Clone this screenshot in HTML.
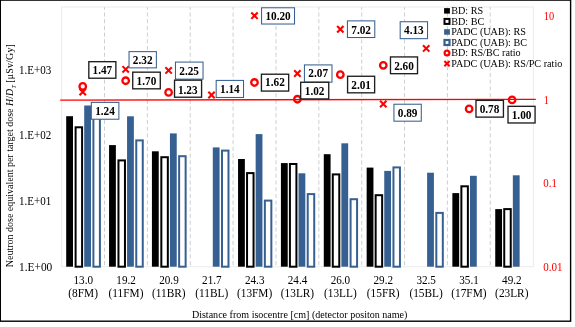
<!DOCTYPE html>
<html><head><meta charset="utf-8"><title>chart</title>
<style>html,body{margin:0;padding:0;background:#fff;}svg{display:block;}text{font-family:"Liberation Serif",serif;}</style></head><body>
<svg width="575" height="327" viewBox="0 0 575 327">
<rect x="0" y="0" width="575" height="327" fill="#fff"/>
<rect x="0.3" y="0.1" width="570.3" height="321.1" fill="none" stroke="#000" stroke-width="1.4"/>
<rect x="61.6" y="7.0" width="471.80" height="259.70" fill="none" stroke="#ebebeb" stroke-width="1"/>
<line x1="104.51" y1="7.2" x2="104.51" y2="266.3" stroke="#c9c9c9" stroke-width="0.9" stroke-dasharray="4.1 2.62" stroke-dashoffset="1.5"/>
<line x1="147.38" y1="7.2" x2="147.38" y2="266.3" stroke="#c9c9c9" stroke-width="0.9" stroke-dasharray="4.1 2.62" stroke-dashoffset="1.5"/>
<line x1="190.24" y1="7.2" x2="190.24" y2="266.3" stroke="#c9c9c9" stroke-width="0.9" stroke-dasharray="4.1 2.62" stroke-dashoffset="1.5"/>
<line x1="233.10" y1="7.2" x2="233.10" y2="266.3" stroke="#c9c9c9" stroke-width="0.9" stroke-dasharray="4.1 2.62" stroke-dashoffset="1.5"/>
<line x1="275.97" y1="7.2" x2="275.97" y2="266.3" stroke="#c9c9c9" stroke-width="0.9" stroke-dasharray="4.1 2.62" stroke-dashoffset="1.5"/>
<line x1="318.83" y1="7.2" x2="318.83" y2="266.3" stroke="#c9c9c9" stroke-width="0.9" stroke-dasharray="4.1 2.62" stroke-dashoffset="1.5"/>
<line x1="361.70" y1="7.2" x2="361.70" y2="266.3" stroke="#c9c9c9" stroke-width="0.9" stroke-dasharray="4.1 2.62" stroke-dashoffset="1.5"/>
<line x1="404.56" y1="7.2" x2="404.56" y2="266.3" stroke="#c9c9c9" stroke-width="0.9" stroke-dasharray="4.1 2.62" stroke-dashoffset="1.5"/>
<line x1="447.42" y1="7.2" x2="447.42" y2="266.3" stroke="#c9c9c9" stroke-width="0.9" stroke-dasharray="4.1 2.62" stroke-dashoffset="1.5"/>
<line x1="490.29" y1="7.2" x2="490.29" y2="266.3" stroke="#c9c9c9" stroke-width="0.9" stroke-dasharray="4.1 2.62" stroke-dashoffset="1.5"/>
<rect x="66.20" y="116.20" width="6.8" height="150.50" fill="#000"/>
<rect x="75.60" y="127.30" width="6.50" height="139.40" fill="#fff" stroke="#000" stroke-width="2.0"/>
<rect x="84.20" y="105.50" width="6.8" height="161.20" fill="#376092"/>
<rect x="93.40" y="112.00" width="6.50" height="154.70" fill="#fff" stroke="#376092" stroke-width="2.0"/>
<rect x="109.06" y="145.10" width="6.8" height="121.60" fill="#000"/>
<rect x="118.46" y="160.40" width="6.50" height="106.30" fill="#fff" stroke="#000" stroke-width="2.0"/>
<rect x="127.06" y="116.30" width="6.8" height="150.40" fill="#376092"/>
<rect x="136.26" y="140.40" width="6.50" height="126.30" fill="#fff" stroke="#376092" stroke-width="2.0"/>
<rect x="151.93" y="151.30" width="6.8" height="115.40" fill="#000"/>
<rect x="161.33" y="157.20" width="6.50" height="109.50" fill="#fff" stroke="#000" stroke-width="2.0"/>
<rect x="169.93" y="133.40" width="6.8" height="133.30" fill="#376092"/>
<rect x="179.13" y="156.20" width="6.50" height="110.50" fill="#fff" stroke="#376092" stroke-width="2.0"/>
<rect x="212.79" y="147.40" width="6.8" height="119.30" fill="#376092"/>
<rect x="221.99" y="150.60" width="6.50" height="116.10" fill="#fff" stroke="#376092" stroke-width="2.0"/>
<rect x="238.05" y="159.00" width="6.8" height="107.70" fill="#000"/>
<rect x="247.05" y="173.10" width="6.50" height="93.60" fill="#fff" stroke="#000" stroke-width="2.0"/>
<rect x="255.65" y="134.10" width="6.8" height="132.60" fill="#376092"/>
<rect x="264.85" y="200.60" width="6.50" height="66.10" fill="#fff" stroke="#376092" stroke-width="2.0"/>
<rect x="280.92" y="163.10" width="6.8" height="103.60" fill="#000"/>
<rect x="289.92" y="164.00" width="6.50" height="102.70" fill="#fff" stroke="#000" stroke-width="2.0"/>
<rect x="298.52" y="173.30" width="6.8" height="93.40" fill="#376092"/>
<rect x="307.72" y="194.10" width="6.50" height="72.60" fill="#fff" stroke="#376092" stroke-width="2.0"/>
<rect x="323.78" y="154.20" width="6.8" height="112.50" fill="#000"/>
<rect x="332.78" y="174.40" width="6.50" height="92.30" fill="#fff" stroke="#000" stroke-width="2.0"/>
<rect x="341.38" y="143.30" width="6.8" height="123.40" fill="#376092"/>
<rect x="350.58" y="199.20" width="6.50" height="67.50" fill="#fff" stroke="#376092" stroke-width="2.0"/>
<rect x="366.65" y="167.60" width="6.8" height="99.10" fill="#000"/>
<rect x="375.65" y="195.20" width="6.50" height="71.50" fill="#fff" stroke="#000" stroke-width="2.0"/>
<rect x="384.25" y="170.90" width="6.8" height="95.80" fill="#376092"/>
<rect x="393.45" y="167.40" width="6.50" height="99.30" fill="#fff" stroke="#376092" stroke-width="2.0"/>
<rect x="427.11" y="172.70" width="6.8" height="94.00" fill="#376092"/>
<rect x="436.31" y="212.90" width="6.50" height="53.80" fill="#fff" stroke="#376092" stroke-width="2.0"/>
<rect x="452.37" y="193.10" width="6.8" height="73.60" fill="#000"/>
<rect x="461.37" y="186.30" width="6.50" height="80.40" fill="#fff" stroke="#000" stroke-width="2.0"/>
<rect x="469.97" y="175.80" width="6.8" height="90.90" fill="#376092"/>
<rect x="495.24" y="209.10" width="6.8" height="57.60" fill="#000"/>
<rect x="504.24" y="209.10" width="6.50" height="57.60" fill="#fff" stroke="#000" stroke-width="2.0"/>
<rect x="512.84" y="175.30" width="6.8" height="91.40" fill="#376092"/>
<line x1="60.2" y1="100.1" x2="535.8" y2="99.35" stroke="#ff0000" stroke-width="1.45"/>
<circle cx="82.73" cy="86.40" r="3.25" fill="none" stroke="#ff0000" stroke-width="2.3"/>
<path d="M79.53 88.81L85.93 95.21M79.53 95.21L85.93 88.81" stroke="#ff0000" stroke-width="2.1" fill="none"/>
<circle cx="125.67" cy="80.73" r="3.25" fill="none" stroke="#ff0000" stroke-width="2.3"/>
<path d="M122.47 66.12L128.87 72.52M122.47 72.52L128.87 66.12" stroke="#ff0000" stroke-width="2.1" fill="none"/>
<circle cx="168.60" cy="92.45" r="3.25" fill="none" stroke="#ff0000" stroke-width="2.3"/>
<path d="M165.40 67.23L171.80 73.63M165.40 73.63L171.80 67.23" stroke="#ff0000" stroke-width="2.1" fill="none"/>
<path d="M208.33 91.85L214.73 98.25M208.33 98.25L214.73 91.85" stroke="#ff0000" stroke-width="2.1" fill="none"/>
<circle cx="254.47" cy="82.48" r="3.25" fill="none" stroke="#ff0000" stroke-width="2.3"/>
<path d="M251.27 12.48L257.67 18.88M251.27 18.88L257.67 12.48" stroke="#ff0000" stroke-width="2.1" fill="none"/>
<circle cx="297.40" cy="99.23" r="3.25" fill="none" stroke="#ff0000" stroke-width="2.3"/>
<path d="M294.20 70.25L300.60 76.65M294.20 76.65L300.60 70.25" stroke="#ff0000" stroke-width="2.1" fill="none"/>
<circle cx="340.33" cy="74.66" r="3.25" fill="none" stroke="#ff0000" stroke-width="2.3"/>
<path d="M337.13 26.02L343.53 32.42M337.13 32.42L343.53 26.02" stroke="#ff0000" stroke-width="2.1" fill="none"/>
<circle cx="383.27" cy="65.34" r="3.25" fill="none" stroke="#ff0000" stroke-width="2.3"/>
<path d="M380.07 100.82L386.47 107.22M380.07 107.22L386.47 100.82" stroke="#ff0000" stroke-width="2.1" fill="none"/>
<path d="M423.00 45.23L429.40 51.63M423.00 51.63L429.40 45.23" stroke="#ff0000" stroke-width="2.1" fill="none"/>
<circle cx="469.13" cy="108.95" r="3.25" fill="none" stroke="#ff0000" stroke-width="2.3"/>
<circle cx="512.07" cy="99.95" r="3.25" fill="none" stroke="#ff0000" stroke-width="2.3"/>
<rect x="88.82" y="61.67" width="27.05" height="16.55" fill="#fff" stroke="#1f1f1f" stroke-width="1.35"/>
<text transform="translate(102.35 74.05) scale(0.94 1)" font-size="12" font-weight="bold" text-anchor="middle" fill="#000">1.47</text>
<rect x="129.03" y="51.62" width="27.35" height="16.25" fill="#fff" stroke="#376092" stroke-width="1.05"/>
<text transform="translate(142.70 63.85) scale(0.94 1)" font-size="12" font-weight="bold" text-anchor="middle" fill="#000">2.32</text>
<rect x="132.73" y="72.17" width="27.55" height="16.65" fill="#fff" stroke="#1f1f1f" stroke-width="1.35"/>
<text transform="translate(146.45 84.65) scale(0.94 1)" font-size="12" font-weight="bold" text-anchor="middle" fill="#000">1.70</text>
<rect x="175.48" y="62.08" width="27.55" height="17.05" fill="#fff" stroke="#376092" stroke-width="1.05"/>
<text transform="translate(189.15 74.70) scale(0.94 1)" font-size="12" font-weight="bold" text-anchor="middle" fill="#000">2.25</text>
<rect x="174.53" y="80.17" width="27.05" height="17.05" fill="#fff" stroke="#1f1f1f" stroke-width="1.35"/>
<text transform="translate(187.75 93.65) scale(0.94 1)" font-size="12" font-weight="bold" text-anchor="middle" fill="#000">1.23</text>
<rect x="91.33" y="102.38" width="27.55" height="16.85" fill="#fff" stroke="#376092" stroke-width="1.05"/>
<text transform="translate(105.00 114.90) scale(0.94 1)" font-size="12" font-weight="bold" text-anchor="middle" fill="#000">1.24</text>
<rect x="261.57" y="7.77" width="32.95" height="16.25" fill="#fff" stroke="#376092" stroke-width="1.05"/>
<text transform="translate(278.05 20.00) scale(0.94 1)" font-size="12" font-weight="bold" text-anchor="middle" fill="#000">10.20</text>
<rect x="216.18" y="80.42" width="27.35" height="17.05" fill="#fff" stroke="#376092" stroke-width="1.05"/>
<text transform="translate(229.85 93.45) scale(0.94 1)" font-size="12" font-weight="bold" text-anchor="middle" fill="#000">1.14</text>
<rect x="261.43" y="74.22" width="27.25" height="16.85" fill="#fff" stroke="#1f1f1f" stroke-width="1.35"/>
<text transform="translate(274.95 86.40) scale(0.94 1)" font-size="12" font-weight="bold" text-anchor="middle" fill="#000">1.62</text>
<rect x="304.43" y="64.92" width="27.55" height="17.25" fill="#fff" stroke="#376092" stroke-width="1.05"/>
<text transform="translate(318.20 77.25) scale(0.94 1)" font-size="12" font-weight="bold" text-anchor="middle" fill="#000">2.07</text>
<rect x="300.68" y="82.27" width="28.05" height="16.65" fill="#fff" stroke="#1f1f1f" stroke-width="1.35"/>
<text transform="translate(314.60 95.15) scale(0.94 1)" font-size="12" font-weight="bold" text-anchor="middle" fill="#000">1.02</text>
<rect x="347.43" y="20.88" width="27.35" height="16.65" fill="#fff" stroke="#376092" stroke-width="1.05"/>
<text transform="translate(361.10 33.60) scale(0.94 1)" font-size="12" font-weight="bold" text-anchor="middle" fill="#000">7.02</text>
<rect x="400.18" y="21.73" width="27.35" height="16.95" fill="#fff" stroke="#376092" stroke-width="1.05"/>
<text transform="translate(413.85 34.45) scale(0.94 1)" font-size="12" font-weight="bold" text-anchor="middle" fill="#000">4.13</text>
<rect x="390.48" y="56.93" width="27.05" height="16.75" fill="#fff" stroke="#1f1f1f" stroke-width="1.35"/>
<text transform="translate(404.00 69.50) scale(0.94 1)" font-size="12" font-weight="bold" text-anchor="middle" fill="#000">2.60</text>
<rect x="347.58" y="76.27" width="27.05" height="16.55" fill="#fff" stroke="#1f1f1f" stroke-width="1.35"/>
<text transform="translate(361.10 88.95) scale(0.94 1)" font-size="12" font-weight="bold" text-anchor="middle" fill="#000">2.01</text>
<rect x="393.93" y="104.23" width="27.35" height="16.95" fill="#fff" stroke="#376092" stroke-width="1.05"/>
<text transform="translate(407.60 116.75) scale(0.94 1)" font-size="12" font-weight="bold" text-anchor="middle" fill="#000">0.89</text>
<rect x="475.98" y="100.37" width="27.45" height="16.75" fill="#fff" stroke="#1f1f1f" stroke-width="1.35"/>
<text transform="translate(489.50 112.95) scale(0.94 1)" font-size="12" font-weight="bold" text-anchor="middle" fill="#000">0.78</text>
<rect x="508.02" y="106.32" width="27.05" height="16.65" fill="#fff" stroke="#1f1f1f" stroke-width="1.35"/>
<text transform="translate(521.55 118.70) scale(0.94 1)" font-size="12" font-weight="bold" text-anchor="middle" fill="#000">1.00</text>
<text transform="translate(19.00 270.60) scale(0.95 1)" font-size="12" text-anchor="start" fill="#000">1.E+00</text>
<text transform="translate(19.00 205.23) scale(0.92 1)" font-size="12" text-anchor="start" fill="#000">1.E+01</text>
<text transform="translate(19.00 138.83) scale(0.92 1)" font-size="12" text-anchor="start" fill="#000">1.E+02</text>
<text transform="translate(19.00 73.89) scale(0.92 1)" font-size="12" text-anchor="start" fill="#000">1.E+03</text>
<text transform="translate(543.80 20.45) scale(0.87 1)" font-size="12" text-anchor="start" fill="#ff0000">10</text>
<text transform="translate(543.70 104.20) scale(0.85 1)" font-size="12" text-anchor="start" fill="#ff0000">1</text>
<text transform="translate(543.30 186.60) scale(0.91 1)" font-size="12" text-anchor="start" fill="#ff0000">0.1</text>
<text transform="translate(543.30 270.75) scale(0.92 1)" font-size="12" text-anchor="start" fill="#ff0000">0.01</text>
<text transform="translate(83.23 284.10) scale(0.93 1)" font-size="12" text-anchor="middle" fill="#000">13.0</text>
<text transform="translate(83.13 296.60) scale(0.945 1)" font-size="12" text-anchor="middle" fill="#000">(8FM)</text>
<text transform="translate(126.10 284.10) scale(0.93 1)" font-size="12" text-anchor="middle" fill="#000">19.2</text>
<text transform="translate(126.00 296.60) scale(0.945 1)" font-size="12" text-anchor="middle" fill="#000">(11FM)</text>
<text transform="translate(168.96 284.10) scale(0.93 1)" font-size="12" text-anchor="middle" fill="#000">20.9</text>
<text transform="translate(168.86 296.60) scale(0.945 1)" font-size="12" text-anchor="middle" fill="#000">(11BR)</text>
<text transform="translate(211.82 284.10) scale(0.93 1)" font-size="12" text-anchor="middle" fill="#000">21.7</text>
<text transform="translate(211.72 296.60) scale(0.945 1)" font-size="12" text-anchor="middle" fill="#000">(11BL)</text>
<text transform="translate(254.69 284.10) scale(0.93 1)" font-size="12" text-anchor="middle" fill="#000">24.3</text>
<text transform="translate(254.59 296.60) scale(0.945 1)" font-size="12" text-anchor="middle" fill="#000">(13FM)</text>
<text transform="translate(297.55 284.10) scale(0.93 1)" font-size="12" text-anchor="middle" fill="#000">24.4</text>
<text transform="translate(297.45 296.60) scale(0.945 1)" font-size="12" text-anchor="middle" fill="#000">(13LR)</text>
<text transform="translate(340.41 284.10) scale(0.93 1)" font-size="12" text-anchor="middle" fill="#000">26.0</text>
<text transform="translate(340.31 296.60) scale(0.945 1)" font-size="12" text-anchor="middle" fill="#000">(13LL)</text>
<text transform="translate(383.28 284.10) scale(0.93 1)" font-size="12" text-anchor="middle" fill="#000">29.2</text>
<text transform="translate(383.18 296.60) scale(0.945 1)" font-size="12" text-anchor="middle" fill="#000">(15FR)</text>
<text transform="translate(426.14 284.10) scale(0.93 1)" font-size="12" text-anchor="middle" fill="#000">32.5</text>
<text transform="translate(426.04 296.60) scale(0.945 1)" font-size="12" text-anchor="middle" fill="#000">(15BL)</text>
<text transform="translate(469.00 284.10) scale(0.93 1)" font-size="12" text-anchor="middle" fill="#000">35.1</text>
<text transform="translate(468.90 296.60) scale(0.945 1)" font-size="12" text-anchor="middle" fill="#000">(17FM)</text>
<text transform="translate(511.87 284.10) scale(0.93 1)" font-size="12" text-anchor="middle" fill="#000">49.2</text>
<text transform="translate(511.77 296.60) scale(0.945 1)" font-size="12" text-anchor="middle" fill="#000">(23LR)</text>
<text transform="translate(299.65 317.60) scale(0.915 1)" font-size="11" text-anchor="middle" fill="#000">Distance from isocentre [cm] (detector positon name)</text>
<text transform="translate(12.9,267.2) rotate(-90) scale(0.909 1)" font-size="11" text-anchor="start" fill="#000">Neutron dose equivalent per target dose <tspan font-style="italic">H</tspan>/<tspan font-style="italic">D</tspan><tspan font-size="6.5" dy="2.6" dx="0.3" font-style="italic">T</tspan><tspan dy="-2.6" dx="-0.4" letter-spacing="0.2"> [μSv/Gy]</tspan></text>
<rect x="444.10" y="8.12" width="5.8" height="5.5" fill="#000"/>
<text transform="translate(451.20 14.15) scale(0.925 1)" font-size="11" text-anchor="start" fill="#000">BD: RS</text>
<rect x="444.50" y="18.91" width="5" height="5" fill="#fff" stroke="#000" stroke-width="2"/>
<text transform="translate(451.20 24.70) scale(0.925 1)" font-size="11" text-anchor="start" fill="#000">BD: BC</text>
<rect x="444.10" y="29.20" width="5.8" height="5.5" fill="#376092"/>
<text transform="translate(451.20 35.25) scale(0.925 1)" font-size="11" text-anchor="start" fill="#000">PADC (UAB): RS</text>
<rect x="444.50" y="39.99" width="5" height="5" fill="#fff" stroke="#376092" stroke-width="2.2"/>
<text transform="translate(451.20 45.80) scale(0.925 1)" font-size="11" text-anchor="start" fill="#000">PADC (UAB): BC</text>
<circle cx="447.00" cy="53.03" r="2.4" fill="none" stroke="#ff0000" stroke-width="2.2"/>
<text transform="translate(451.20 56.35) scale(0.925 1)" font-size="11" text-anchor="start" fill="#000">BD: RS/BC ratio</text>
<path d="M444.40 60.97L449.60 66.17M444.40 66.17L449.60 60.97" stroke="#ff0000" stroke-width="2.1" fill="none"/>
<text transform="translate(451.20 66.90) scale(0.925 1)" font-size="11" text-anchor="start" fill="#000">PADC (UAB): RS/PC ratio</text>
</svg></body></html>
